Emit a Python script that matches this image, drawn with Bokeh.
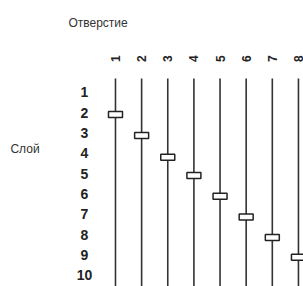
from bokeh.plotting import figure
from bokeh.models import Range1d
from bokeh.core.properties import value
from bokeh.embed import file_html
from bokeh.resources import INLINE
import math

# Data
holes = [1, 2, 3, 4, 5, 6, 7, 8]
hole_labels = ["1", "2", "3", "4", "5", "6", "7", "8"]
marker_layers = [2.08, 3.12, 4.18, 5.08, 6.1, 7.13, 8.13, 9.1]
layers = [1, 2, 3, 4, 5, 6, 7, 8, 9, 10]
layer_labels = ["1", "2", "3", "4", "5", "6", "7", "8", "9", "10"]
title_x = "Отверстие"
title_y = "Слой"

W, H = 303, 286
p = figure(width=W, height=H, output_backend="svg", toolbar_location=None,
           x_range=Range1d(-3.399, 8.193), y_range=Range1d(10.543, -3.525),
           min_border=0, outline_line_color=None)
p.axis.visible = False
p.grid.visible = False
p.background_fill_color = "white"
p.border_fill_color = "white"

FONT = "Liberation Sans"

# vertical lines
p.segment(x0=holes, y0=[0.31] * len(holes), x1=holes, y1=[10.6] * len(holes),
          line_color="#333333", line_width=1.6)

# markers
p.rect(x=holes, y=marker_layers, width=14, height=6, width_units="screen",
       height_units="screen", fill_color="white", line_color="#222222", line_width=1.5)

# column labels (rotated)
p.text(x=holes, y=[-0.67] * len(holes), text=hole_labels, angle=math.pi / 2,
       text_align="center", text_baseline="middle", text_font=value(FONT),
       text_font_style="bold", text_font_size="12px", text_color="#222222")

# row labels
p.text(x=[-0.186] * len(layers), y=layers, text=layer_labels,
       text_align="center", text_baseline="middle", text_font=value(FONT),
       text_font_style="bold", text_font_size="14px", text_color="#222222")

# titles
p.text(x=[-0.8], y=[-2.44], text=[title_x], text_align="left", text_baseline="middle",
       text_font=value(FONT), text_font_size="12px", text_color="#333333")
p.text(x=[-3.02], y=[3.76], text=[title_y], text_align="left", text_baseline="middle",
       text_font=value(FONT), text_font_size="12px", text_color="#333333")

open("out.html", "w").write(file_html(p, INLINE))
